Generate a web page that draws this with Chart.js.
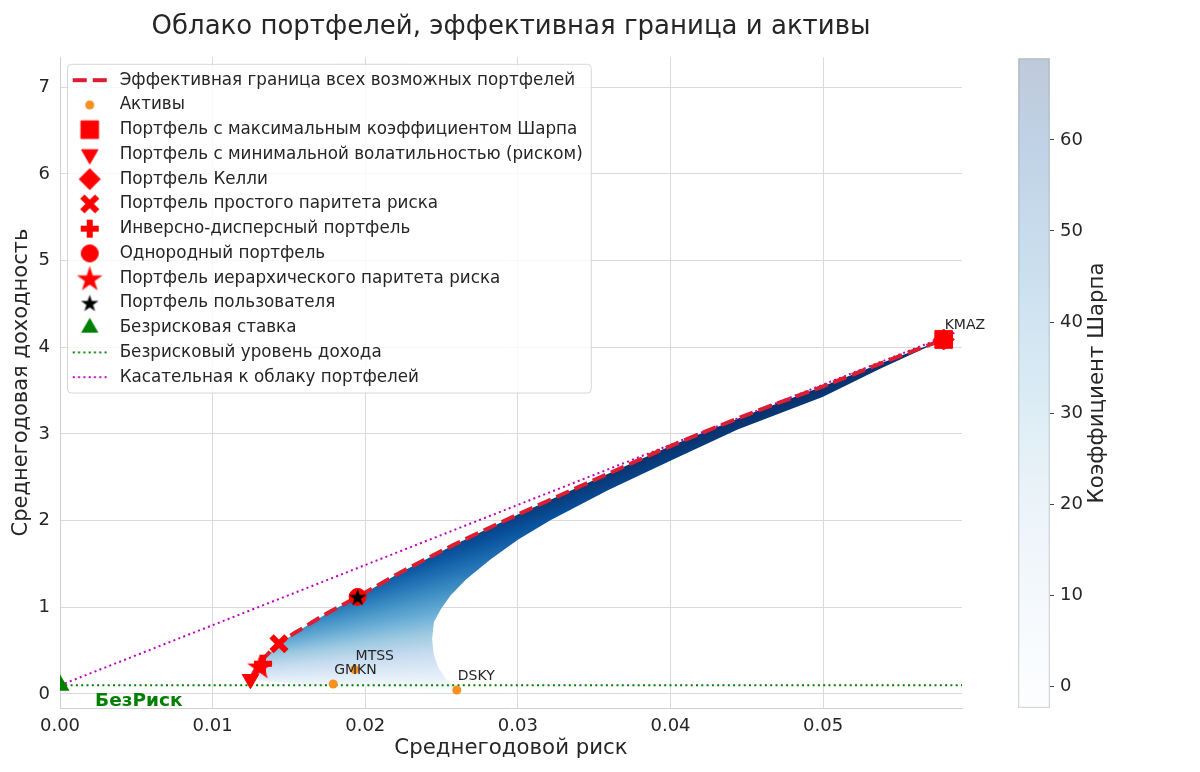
<!DOCTYPE html>
<html>
<head>
<meta charset="utf-8">
<title>Облако портфелей</title>
<script src="https://cdn.jsdelivr.net/npm/chart.js@4.4.1/dist/chart.umd.min.js"></script>
<style>
  html, body { margin: 0; padding: 0; background: #fff; }
  #wrap { position: relative; width: 1200px; height: 772px; }
  #main { position: absolute; left: 0; top: 0; }
  #bar { position: absolute; left: 1000px; top: 0; }
</style>
</head>
<body>
<div id="wrap">
  <canvas id="main" width="1000" height="772"></canvas>
  <canvas id="bar" width="200" height="772"></canvas>
</div>
<script>
// values (risk = x, return = y)

// efficient frontier, from the min-volatility portfolio up to KMAZ
const frontierRisk   = [0.01248, 0.0128, 0.0133, 0.01435, 0.0160, 0.0178, 0.0195, 0.0223, 0.0258, 0.0300, 0.0354, 0.0400, 0.0450, 0.0500, 0.0540, 0.0579];
const frontierReturn = [0.17, 0.28, 0.40, 0.58, 0.77, 0.96, 1.12, 1.40, 1.72, 2.07, 2.50, 2.86, 3.22, 3.55, 3.83, 4.09];

// lower edge of the portfolio cloud, from KMAZ back round the nose to DSKY and left again
const cloudLowerRisk   = [0.0579, 0.0537, 0.0500, 0.0444, 0.0401, 0.0359, 0.0321, 0.0300, 0.0282, 0.0266, 0.0256, 0.02496, 0.0245, 0.02438, 0.0245, 0.0248, 0.0253, 0.0260, 0.0230, 0.0200, 0.0170, 0.0140];
const cloudLowerReturn = [4.09, 3.75, 3.43, 3.05, 2.70, 2.35, 2.00, 1.78, 1.55, 1.32, 1.14, 0.98, 0.83, 0.63, 0.45, 0.30, 0.17, 0.046, 0.06, 0.08, 0.10, 0.14];

const assetNames  = ['GMKN', 'MTSS', 'DSKY', 'KMAZ'];
const assetRisk   = [0.0179, 0.0193, 0.0260, 0.0579];
const assetReturn = [0.115, 0.28, 0.046, 4.09];

const portfolioNames = [
  'Портфель с максимальным коэффициентом Шарпа',
  'Портфель с минимальной волатильностью (риском)',
  'Портфель Келли',
  'Портфель простого паритета риска',
  'Инверсно-дисперсный портфель',
  'Однородный портфель',
  'Портфель иерархического паритета риска',
  'Портфель пользователя'
];
const portfolioRisk   = [0.0579, 0.01248, 0.0579, 0.01435, 0.0133, 0.0195, 0.0131, 0.0195];
const portfolioReturn = [4.09, 0.17, 4.09, 0.58, 0.35, 1.12, 0.32, 1.12];

const riskFreeRisk = 0;
const riskFreeRate = 0.1;
const riskFreeLineRisk = [0, 0.0591];
const tangentRisk   = [0, 0.0588];
const tangentReturn = [0.1, 4.18];

const xTickValues = [0, 0.01, 0.02, 0.03, 0.04, 0.05];
const yTickValues = [0, 1, 2, 3, 4, 5, 6, 7];
const sharpeMin = -2.4;
const sharpeMax = 69;
const sharpeTicks = [0, 10, 20, 30, 40, 50, 60];

// styles
const FONT = 'DejaVu Sans';
const TEXT = '#262626';
const RED = '#ff0000';
const CRIMSON = '#dc1e32';
const ORANGE = '#f7901e';
const GREEN = '#008000';
const MAGENTA = '#c000c0';
const GRID = '#dadada';
const BLUES = ['#f7fbff', '#deebf7', '#c6dbef', '#9ecae1', '#6baed6', '#4292c6', '#2171b5', '#08519c', '#08306b'];

function hexA(hex, a) {
  const n = parseInt(hex.slice(1), 16);
  return `rgba(${n >> 16},${(n >> 8) & 255},${n & 255},${a})`;
}

function starImage(color, outer) {
  const c = document.createElement('canvas');
  const s = Math.ceil(outer * 2 + 2);
  c.width = s; c.height = s;
  const g = c.getContext('2d');
  g.fillStyle = color;
  g.beginPath();
  for (let i = 0; i < 10; i++) {
    const r = i % 2 ? outer * 0.382 : outer;
    const a = -Math.PI / 2 + i * Math.PI / 5;
    g.lineTo(s / 2 + r * Math.cos(a), s / 2 + r * Math.sin(a) + outer * 0.1);
  }
  g.closePath();
  g.fill();
  return c;
}

function legendIcon(drawFn) {
  const c = document.createElement('canvas');
  c.width = 44; c.height = 26;
  drawFn(c.getContext('2d'), 22, 13);
  return c;
}

function markerIcon(st) {
  return legendIcon((g, cx, cy) => {
    if (typeof st.pointStyle !== 'string') {
      g.drawImage(st.pointStyle, cx - st.pointStyle.width / 2, cy - st.pointStyle.height / 2);
      return;
    }
    g.fillStyle = st.color;
    g.strokeStyle = st.color;
    g.lineWidth = st.borderWidth;
    Chart.helpers.drawPoint(g, {pointStyle: st.pointStyle, radius: st.radius, rotation: st.rotation || 0, borderWidth: st.borderWidth}, cx, cy);
  });
}

function lineIcon(color, width, dash) {
  return legendIcon((g, cx, cy) => {
    g.strokeStyle = color;
    g.lineWidth = width;
    g.setLineDash(dash);
    g.beginPath();
    g.moveTo(cx - 17, cy);
    g.lineTo(cx + 17, cy);
    g.stroke();
  });
}

const portfolioStyles = [
  {pointStyle: 'rect', radius: 12.5, color: RED, borderWidth: 1},
  {pointStyle: 'triangle', rotation: 180, radius: 9.5, color: RED, borderWidth: 1},
  {pointStyle: 'rectRot', radius: 10.5, color: RED, borderWidth: 1},
  {pointStyle: 'crossRot', radius: 10.5, color: RED, borderWidth: 6},
  {pointStyle: 'cross', radius: 9, color: RED, borderWidth: 6},
  {pointStyle: 'circle', radius: 8.5, color: RED, borderWidth: 1},
  {pointStyle: starImage(RED, 13.5), radius: 13, color: RED, borderWidth: 0},
  {pointStyle: starImage('#000000', 9.2), radius: 9, color: '#000000', borderWidth: 0}
];
const portfolioOrder = [0, 0, 0.5, 0, 0, 0, 0, -1];

// cloud colour = Sharpe ratio, i.e. the angle of the ray from the risk-free point
function sharpeGradient(context) {
  const chart = context.chart;
  if (!chart.chartArea) return BLUES[5];
  const xs = chart.scales.x, ys = chart.scales.y;
  const cx = xs.getPixelForValue(riskFreeRisk), cy = ys.getPixelForValue(riskFreeRate);
  const angleOf = (s) => Math.atan2(ys.getPixelForValue(riskFreeRate + s * 0.01) - cy, xs.getPixelForValue(0.01) - cx);
  const start = angleOf(sharpeMax) - 0.02;
  const g = chart.ctx.createConicGradient(start, cx, cy);
  BLUES.forEach((c, i) => {
    const s = sharpeMin + (sharpeMax - sharpeMin) * i / (BLUES.length - 1);
    g.addColorStop((angleOf(s) - start) / (2 * Math.PI), c);
  });
  return g;
}

const pts = (xs, ys) => xs.map((x, i) => ({x, y: ys[i]}));

const datasets = [];
datasets.push({
  type: 'line', label: 'Эффективная граница всех возможных портфелей',
  data: pts(frontierRisk, frontierReturn),
  borderColor: CRIMSON, borderWidth: 4, borderDash: [14, 6], pointRadius: 0, fill: false,
  cubicInterpolationMode: 'monotone', order: 2,
  legendIcon: lineIcon(CRIMSON, 4, [14, 6])
});
datasets.push({
  type: 'scatter', label: 'Активы', data: pts(assetRisk, assetReturn),
  pointStyle: 'circle', pointRadius: 4.5, backgroundColor: ORANGE, borderColor: ORANGE, borderWidth: 0, order: 1,
  legendIcon: markerIcon({pointStyle: 'circle', radius: 4.5, color: ORANGE, borderWidth: 0})
});
portfolioNames.forEach((name, i) => {
  const st = portfolioStyles[i];
  datasets.push({
    type: 'scatter', label: name, data: [{x: portfolioRisk[i], y: portfolioReturn[i]}],
    pointStyle: st.pointStyle, pointRadius: st.radius, rotation: st.rotation || 0,
    backgroundColor: st.color, borderColor: st.color, borderWidth: st.borderWidth,
    order: portfolioOrder[i], legendIcon: markerIcon(st)
  });
});
datasets.push({
  type: 'scatter', label: 'Безрисковая ставка', data: [{x: riskFreeRisk, y: riskFreeRate}],
  pointStyle: 'triangle', pointRadius: 11, backgroundColor: GREEN, borderColor: GREEN, borderWidth: 0,
  clip: 0, order: 0,
  legendIcon: markerIcon({pointStyle: 'triangle', radius: 10, color: GREEN, borderWidth: 0})
});
datasets.push({
  type: 'line', label: 'Безрисковый уровень дохода',
  data: riskFreeLineRisk.map(x => ({x, y: riskFreeRate})),
  borderColor: GREEN, borderWidth: 2, borderDash: [2, 3.3], pointRadius: 0, fill: false, order: 2,
  legendIcon: lineIcon(GREEN, 2, [2, 3.3])
});
datasets.push({
  type: 'line', label: 'Касательная к облаку портфелей',
  data: pts(tangentRisk, tangentReturn),
  borderColor: MAGENTA, borderWidth: 2, borderDash: [2, 3.3], pointRadius: 0, fill: false, order: 2,
  legendIcon: lineIcon(MAGENTA, 2, [2, 3.3])
});
datasets.push({
  type: 'line', label: '',
  data: pts(frontierRisk.concat(cloudLowerRisk), frontierReturn.concat(cloudLowerReturn)),
  fill: 'shape', backgroundColor: sharpeGradient, borderWidth: 0, pointRadius: 0, order: 10
});

// matplotlib-like legend frame, and legend moved to the reference spot
const legendFrame = {
  id: 'legendFrame',
  afterLayout(chart) {
    const lg = chart.legend;
    if (!lg || lg.__framed) return;
    lg.__framed = true;
    const draw = lg.draw.bind(lg);
    lg.draw = function () {
      const boxes = lg.legendHitBoxes;
      if (!boxes || !boxes.length) return draw();
      const ctx = chart.ctx;
      const area = chart.chartArea;
      const dx = area.left + 8.25 - boxes[0].left;
      const dy = area.top + 14.6 - boxes[0].top;
      const left = Math.min(...boxes.map(b => b.left)) - 1.25;
      const top = Math.min(...boxes.map(b => b.top)) - 8;
      const right = Math.max(...boxes.map(b => b.left + b.width)) + 8;
      const bottom = Math.max(...boxes.map(b => b.top + b.height)) + 7;
      ctx.save();
      ctx.translate(dx, dy);
      ctx.beginPath();
      ctx.roundRect(left + 0.5, top + 0.5, right - left, bottom - top, 4);
      ctx.fillStyle = 'rgba(255,255,255,0.8)';
      ctx.fill();
      ctx.strokeStyle = '#d6d6d6';
      ctx.lineWidth = 1;
      ctx.stroke();
      draw();
      ctx.restore();
    };
  }
};

const textLabels = {
  id: 'textLabels',
  afterDatasetsDraw(chart) {
    const {ctx, scales: {x, y}} = chart;
    ctx.save();
    ctx.font = `14px "${FONT}"`;
    ctx.fillStyle = TEXT;
    ctx.textAlign = 'left';
    ctx.textBaseline = 'alphabetic';
    assetNames.forEach((n, i) => {
      ctx.fillText(n, x.getPixelForValue(assetRisk[i]) + 1, y.getPixelForValue(assetReturn[i]) - 10);
    });
    ctx.font = `bold 18.5px "${FONT}"`;
    ctx.fillStyle = GREEN;
    ctx.fillText('БезРиск', x.getPixelForValue(0.0023), y.getPixelForValue(-0.14));
    ctx.restore();
  }
};

new Chart(document.getElementById('main'), {
  type: 'scatter',
  data: {datasets},
  options: {
    responsive: false,
    animation: false,
    events: [],
    layout: {padding: {left: 0, right: 38, top: 0, bottom: 0}},
    plugins: {
      title: {
        display: true, text: 'Облако портфелей, эффективная граница и активы',
        fullSize: false, color: TEXT,
        font: {family: FONT, size: 26, weight: 'normal'},
        padding: {top: 12, bottom: 14}
      },
      tooltip: {enabled: false},
      legend: {
        position: 'chartArea', align: 'start',
        labels: {
          usePointStyle: true, pointStyleWidth: 43, padding: 8, color: TEXT,
          font: {family: FONT, size: 16.75},
          generateLabels: (chart) => chart.data.datasets
            .map((ds, i) => ({
              text: ds.label, pointStyle: ds.legendIcon, fillStyle: 'transparent',
              strokeStyle: 'transparent', lineWidth: 0, hidden: false, datasetIndex: i, fontColor: TEXT
            }))
            .filter(it => it.text)
        }
      }
    },
    scales: {
      x: {
        type: 'linear', min: 0, max: 0.0591,
        afterBuildTicks: (s) => { s.ticks = xTickValues.map(v => ({value: v})); },
        afterFit: (s) => { s.height = 64; },
        ticks: {callback: (v) => Number(v).toFixed(2), font: {family: FONT, size: 18}, color: TEXT, padding: 8, maxRotation: 0},
        grid: {color: GRID, drawTicks: false},
        border: {color: '#cfcfcf'},
        title: {display: true, text: 'Среднегодовой риск', color: TEXT, font: {family: FONT, size: 21.3}, padding: {top: 0, bottom: 11}}
      },
      y: {
        type: 'linear', min: -0.162, max: 7.347,
        afterBuildTicks: (s) => { s.ticks = yTickValues.map(v => ({value: v})); },
        afterFit: (s) => { s.width = 60; },
        ticks: {callback: (v) => String(v), font: {family: FONT, size: 18}, color: TEXT, padding: 10},
        grid: {color: GRID, drawTicks: false},
        border: {color: '#cfcfcf'},
        title: {display: true, text: 'Среднегодовая доходность', color: TEXT, font: {family: FONT, size: 21}, padding: {top: 9, bottom: 0}}
      }
    }
  },
  plugins: [legendFrame, textLabels]
});

// colour bar
function barGradient(context) {
  const chart = context.chart;
  const area = chart.chartArea;
  if (!area) return hexA(BLUES[4], 0.28);
  const g = chart.ctx.createLinearGradient(0, area.bottom, 0, area.top);
  BLUES.forEach((c, i) => g.addColorStop(i / (BLUES.length - 1), hexA(c, 0.26)));
  return g;
}

const colorbarLabel = {
  id: 'colorbarLabel',
  afterDraw(chart) {
    const {ctx, chartArea} = chart;
    ctx.save();
    ctx.translate(chartArea.right + 47, (chartArea.top + chartArea.bottom) / 2);
    ctx.rotate(-Math.PI / 2);
    ctx.font = `21.3px "${FONT}"`;
    ctx.fillStyle = TEXT;
    ctx.textAlign = 'center';
    ctx.textBaseline = 'middle';
    ctx.fillText('Коэффициент Шарпа', 0, 0);
    ctx.restore();
  }
};

new Chart(document.getElementById('bar'), {
  type: 'bar',
  data: {
    labels: [''],
    datasets: [{
      data: [[sharpeMin, sharpeMax]],
      backgroundColor: barGradient, borderColor: '#d4d4d4', borderWidth: 1, borderSkipped: false,
      barPercentage: 1, categoryPercentage: 1
    }]
  },
  options: {
    responsive: false,
    animation: false,
    events: [],
    layout: {padding: {left: 18, top: 58, bottom: 64, right: 0}},
    plugins: {legend: {display: false}, tooltip: {enabled: false}},
    scales: {
      x: {display: false},
      y: {
        position: 'right', min: sharpeMin, max: sharpeMax,
        afterBuildTicks: (s) => { s.ticks = sharpeTicks.map(v => ({value: v})); },
        afterFit: (s) => { s.width = 150; },
        ticks: {font: {family: FONT, size: 18}, color: TEXT, padding: 6},
        grid: {drawOnChartArea: false, drawTicks: true, tickLength: 4, color: '#444'},
        border: {display: false}
      }
    }
  },
  plugins: [colorbarLabel]
});
</script>
</body>
</html>
